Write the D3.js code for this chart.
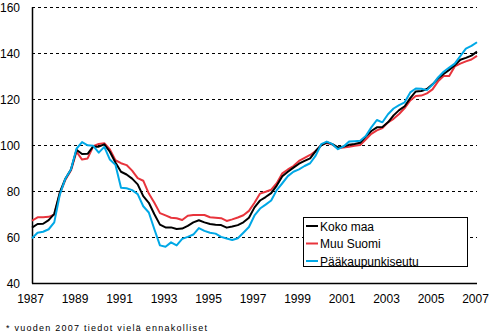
<!DOCTYPE html>
<html><head><meta charset="utf-8">
<script src="https://cdn.jsdelivr.net/npm/d3@7"></script>
<style>
html,body{margin:0;padding:0;background:#fff;}
svg{display:block;font-family:"Liberation Sans",Arial,sans-serif;}
</style></head>
<body>
<svg id="c" width="501" height="335"></svg>
<script>
// Quarterly index values 1987Q1 .. 2007Q1
const startYear = 1987;
const kokoMaa = [64.2,65.8,65.9,67.5,70.2,79.5,85.5,89.5,98.0,96.2,96.3,99.5,99.4,100.4,97.2,92.5,88.5,87.3,85.5,83.0,77.9,75.0,70.0,65.5,64.3,64.3,63.6,63.8,65.0,66.5,67.4,66.5,65.8,65.5,65.3,64.2,64.7,65.3,66.5,68.5,73.0,76.0,77.5,79.2,82.5,86.5,88.5,90.3,92.0,93.2,94.3,97.5,100.0,101.3,100.5,99.1,99.5,100.2,100.6,101.1,103.8,106.2,107.8,108.0,110.0,113.0,115.3,117.0,120.5,123.4,123.6,124.5,126.5,129.0,131.0,132.8,134.8,137.2,138.0,139.0,140.7];
const muuSuomi = [67.2,68.7,68.7,68.9,69.8,79.0,85.0,89.0,97.2,93.8,94.3,99.6,100.6,100.9,98.2,93.5,92.2,91.4,89.0,85.7,84.6,79.0,75.0,70.5,69.5,68.5,68.3,67.5,69.4,69.7,69.7,69.7,68.7,68.5,68.3,67.1,67.8,68.6,69.6,71.5,75.0,79.0,79.8,80.7,83.5,87.8,89.5,91.0,93.2,94.5,95.8,97.5,100.2,101.0,100.3,98.7,99.0,99.4,99.8,100.1,102.5,105.0,106.5,107.5,110.0,111.5,113.6,116.2,119.5,121.4,121.6,122.6,124.3,127.8,130.1,130.1,134.3,135.5,136.5,137.3,138.9];
const paakaupunkiseutu = [59.6,62.0,62.4,63.5,66.5,78.5,85.5,89.5,98.5,101.4,100.0,99.8,96.8,99.3,93.8,91.5,81.5,81.3,80.5,78.8,73.5,70.8,63.5,56.5,55.9,57.8,56.5,59.3,60.2,61.2,64.0,62.8,62.0,61.6,60.2,59.5,58.8,59.6,62.0,64.5,69.5,72.5,74.2,76.0,80.5,83.5,86.6,88.5,89.5,91.0,92.2,95.5,100.5,101.6,100.5,98.3,99.5,101.6,101.8,102.0,104.0,107.8,111.0,110.0,113.5,116.0,117.5,118.7,123.0,124.7,124.6,124.0,126.3,129.5,132.0,133.8,135.5,138.8,142.0,143.2,144.8];
const seriesNames = ["Koko maa","Muu Suomi","Pääkaupunkiseutu"];
const seriesColors = ["#000000","#e8343c","#00a8e6"];
const yTicks = [40,60,80,100,120,140,160];
const xTicks = [1987,1989,1991,1993,1995,1997,1999,2001,2003,2005,2007];
const footnote = "* vuoden 2007 tiedot vielä ennakolliset";

const svg = d3.select("#c");
const x = d3.scaleLinear().domain([1987,2007]).range([32,477]);
const y = d3.scaleLinear().domain([40,160]).range([283.3,7.3]);

// gridlines
svg.append("g").selectAll("line").data(yTicks.filter(d=>d>40)).join("line")
  .attr("x1",x(1987)).attr("x2",x(2007))
  .attr("y1",d=>Math.round(y(d))+0.5).attr("y2",d=>Math.round(y(d))+0.5)
  .attr("stroke","#000").attr("stroke-width",1).attr("stroke-dasharray","3,3");

// y labels
svg.append("g").selectAll("text").data(yTicks).join("text")
  .attr("x",20).attr("y",d=>y(d)+4.5).attr("text-anchor","end")
  .attr("font-size",12).attr("fill","#000").text(d=>d);

// x labels
svg.append("g").selectAll("text").data(xTicks).join("text")
  .attr("x",d=>x(d)-1.5).attr("y",303).attr("text-anchor","middle")
  .attr("font-size",12).attr("fill","#000").text(d=>d);

// axes lines
svg.append("line").attr("x1",32.5).attr("x2",32.5).attr("y1",y(160)).attr("y2",Math.round(y(40))+0.5)
  .attr("stroke","#000").attr("stroke-width",1.5);
svg.append("line").attr("x1",32).attr("x2",x(2007)).attr("y1",Math.round(y(40))+0.5).attr("y2",Math.round(y(40))+0.5)
  .attr("stroke","#000").attr("stroke-width",1.5);

// lines
const data = [kokoMaa, muuSuomi, paakaupunkiseutu];
const line = d3.line().x((d,i)=>x(startYear+i/4)).y(d=>y(d));
[1,0,2].forEach(k=>{
  svg.append("path").datum(data[k]).attr("d",line)
    .attr("fill","none").attr("stroke",seriesColors[k]).attr("stroke-width",2)
    .attr("stroke-linejoin","round");
});

// legend
const lg = svg.append("g");
lg.append("rect").attr("x",303.5).attr("y",217.5).attr("width",164).attr("height",49)
  .attr("fill","#fff").attr("stroke","#000").attr("stroke-width",1);
const rowsY = [226,243.5,261];
seriesNames.forEach((n,i)=>{
  lg.append("line").attr("x1",306).attr("x2",318).attr("y1",rowsY[i]).attr("y2",rowsY[i])
    .attr("stroke",seriesColors[i]).attr("stroke-width",2);
  lg.append("text").attr("x",320).attr("y",rowsY[i]+4.5).attr("font-size",12).attr("fill","#000").text(n);
});

// footnote
svg.append("text").attr("x",6).attr("y",331).attr("font-size",9).attr("letter-spacing",1.25)
  .attr("fill","#000").text(footnote);
</script>
</body></html>
